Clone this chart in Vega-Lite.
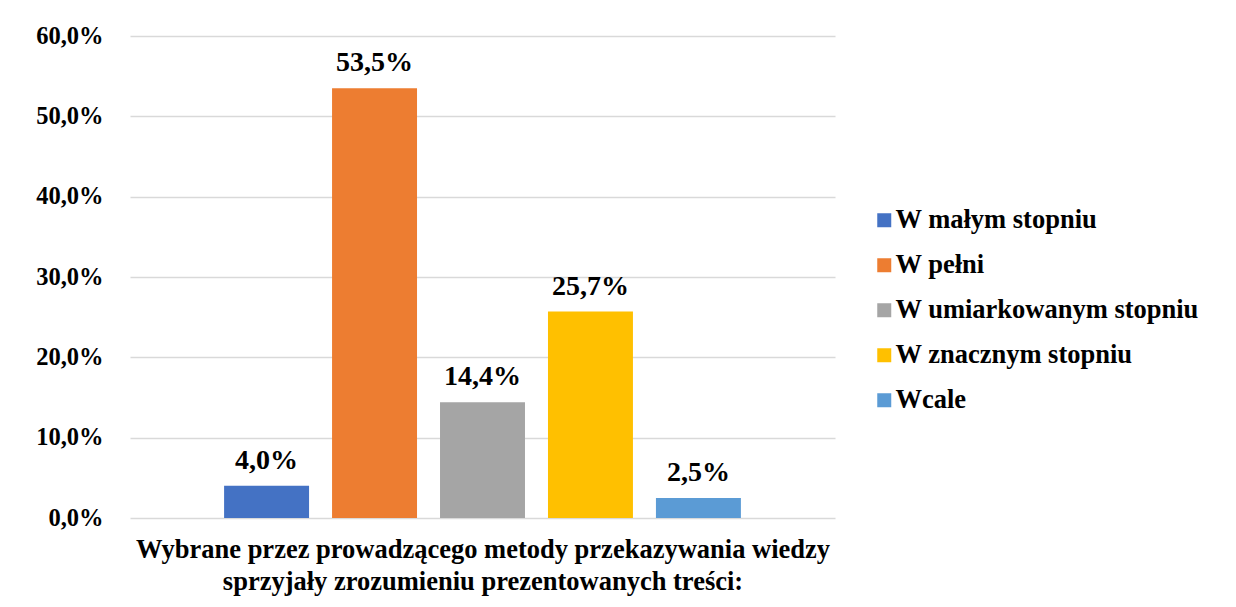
{
  "$schema": "https://vega.github.io/schema/vega-lite/v6.json",
  "width": 705,
  "height": 482,
  "autosize": {"type": "none"},
  "padding": {"left": 130, "top": 36, "right": 401, "bottom": 89},
  "background": "white",
  "data": {"values": [
    {"grupa": "Wybrane", "odp": "W małym stopniu", "v": 0.040},
    {"grupa": "Wybrane", "odp": "W pełni", "v": 0.535},
    {"grupa": "Wybrane", "odp": "W umiarkowanym stopniu", "v": 0.144},
    {"grupa": "Wybrane", "odp": "W znacznym stopniu", "v": 0.257},
    {"grupa": "Wybrane", "odp": "Wcale", "v": 0.025}
  ]},
  "encoding": {
    "x": {
      "field": "grupa", "type": "nominal",
      "scale": {"paddingInner": 0, "paddingOuter": 0.153},
      "axis": {
        "labels": false, "ticks": false, "domain": false,
        "title": ["Wybrane przez prowadzącego metody przekazywania wiedzy", "sprzyjały zrozumieniu prezentowanych treści:"],
        "titleFont": "Liberation Serif", "titleFontSize": 26.5, "titleFontWeight": "bold",
        "titleColor": "#000000", "titlePadding": 18, "titleLineHeight": 32
      }
    },
    "xOffset": {
      "field": "odp", "type": "nominal",
      "sort": ["W małym stopniu", "W pełni", "W umiarkowanym stopniu", "W znacznym stopniu", "Wcale"],
      "scale": {"paddingInner": 0.213, "paddingOuter": 0.1065}
    },
    "y": {
      "field": "v", "type": "quantitative",
      "scale": {"domain": [0, 0.6]},
      "axis": {
        "values": [0, 0.1, 0.2, 0.3, 0.4, 0.5, 0.6],
        "labelExpr": "replace(format(datum.value, '.1%'), '.', ',')",
        "title": null, "domain": false, "ticks": false,
        "labelFont": "Liberation Serif", "labelFontSize": 24.5, "labelFontWeight": "bold",
        "labelColor": "#000000", "labelPadding": 27,
        "grid": true, "gridColor": "#D9D9D9", "gridWidth": 1.5
      }
    }
  },
  "layer": [
    {
      "mark": {"type": "bar"},
      "encoding": {
        "color": {
          "field": "odp", "type": "nominal",
          "sort": ["W małym stopniu", "W pełni", "W umiarkowanym stopniu", "W znacznym stopniu", "Wcale"],
          "scale": {"range": ["#4472C4", "#ED7D31", "#A5A5A5", "#FFC000", "#5B9BD5"]},
          "legend": {
            "title": null, "orient": "none", "legendX": 741, "legendY": 171,
            "symbolType": "square", "symbolSize": 196, "symbolStrokeWidth": 0,
            "labelFont": "Liberation Serif", "labelFontSize": 26.5, "labelFontWeight": "bold",
            "labelColor": "#000000", "rowPadding": 18, "labelOffset": -2, "labelLimit": 400
          }
        }
      }
    },
    {
      "mark": {"type": "text", "baseline": "alphabetic", "dy": -17, "font": "Liberation Serif", "fontSize": 28, "fontWeight": "bold", "color": "#000000"},
      "encoding": {
        "text": {"field": "v", "type": "quantitative", "format": ".1%"}
      }
    }
  ],
  "config": {
    "view": {"stroke": null},
    "locale": {"number": {"decimal": ",", "thousands": " ", "grouping": [3], "currency": ["", " zł"]}}
  }
}
